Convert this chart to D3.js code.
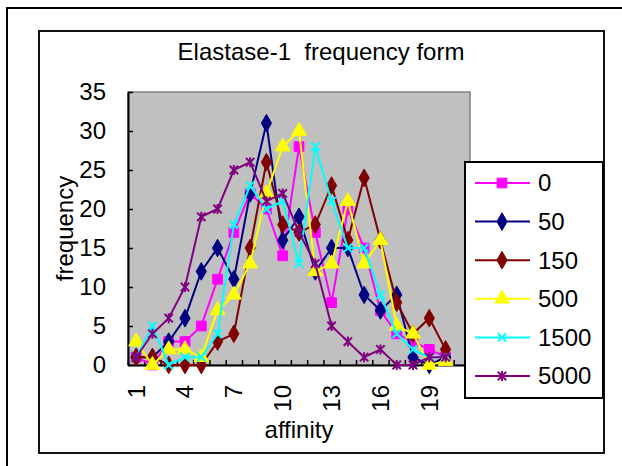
<!DOCTYPE html>
<html>
<head>
<meta charset="utf-8">
<script src="https://cdn.jsdelivr.net/npm/d3@7"></script>
<style>
    body { margin: 0; background: #fff; }
    text { font-family: 'Liberation Sans', Arial, sans-serif; fill: #000; }
</style>
</head>
<body>
<div id="chart"></div>
<script>
// categories on the x axis (21 slots, data for the first 20)
const categories = [1, 2, 3, 4, 5, 6, 7, 8, 9, 10, 11, 12, 13, 14, 15, 16, 17, 18, 19, 20, 21];
const labelCats = [1, 4, 7, 10, 13, 16, 19];
const yTicks = [0, 5, 10, 15, 20, 25, 30, 35];

const seriesNames = ['0', '50', '150', '500', '1500', '5000'];
const s0    = [1, 0, 3, 3, 5, 11, 17, 22, 20, 14, 28, 17, 8, 20, 15, 7, 4, 3, 2, 1];
const s50   = [1, 1, 3, 6, 12, 15, 11, 22, 31, 16, 19, 12, 15, 15, 9, 7, 9, 1, 0, 1];
const s150  = [1, 1, 0, 0, 0, 3, 4, 15, 26, 18, 17, 18, 23, 16, 24, 16, 8, 4, 6, 2];
const s500  = [3, 0, 2, 2, 1, 7, 9, 13, 22, 28, 30, 12, 13, 21, 13, 16, 5, 4, 0, 0.5];
const s1500 = [1, 5, 0, 1, 1, 4, 18, 23, 20, 21, 13, 28, 21, 15, 15, 9, 4, 2, 1, 1];
const s5000 = [1, 4, 6, 10, 19, 20, 25, 26, 21, 22, 17, 13, 5, 3, 1, 2, 0, 0, 1, 1];

const seriesValues = [s0, s50, s150, s500, s1500, s5000];
const colors = ['#ff00ff', '#000080', '#800000', '#ffff00', '#00ffff', '#800080'];

// excel style star: x with a vertical bar
const symbolStar = {
    draw(ctx, size) {
        const r = Math.sqrt(size) / 2;
        ctx.moveTo(-r, -r); ctx.lineTo(r, r);
        ctx.moveTo(r, -r); ctx.lineTo(-r, r);
        ctx.moveTo(0, -r * 1.2); ctx.lineTo(0, r * 1.2);
    }
};
const symbolCross = {
    draw(ctx, size) {
        const r = Math.sqrt(size) / 2;
        ctx.moveTo(-r, -r); ctx.lineTo(r, r);
        ctx.moveTo(r, -r); ctx.lineTo(-r, r);
    }
};
const markers = [
    { type: d3.symbolSquare, size: 95, filled: true },
    { type: d3.symbolDiamond, size: 90, filled: true },
    { type: d3.symbolDiamond, size: 90, filled: true },
    { type: d3.symbolTriangle, size: 95, filled: true },
    { type: symbolCross, size: 70, filled: false },
    { type: symbolStar, size: 70, filled: false }
];

const W = 622, H = 466;
const plot = { left: 128, right: 470, top: 92, bottom: 365 };

const svg = d3.select('#chart').append('svg')
    .attr('width', W)
    .attr('height', H);

// outer frame (runs off the picture on the right / bottom)
svg.append('rect')
    .attr('x', 7).attr('y', 8)
    .attr('width', 700).attr('height', 600)
    .attr('fill', '#fff')
    .attr('stroke', '#000')
    .attr('stroke-width', 2);

// chart frame
svg.append('rect')
    .attr('x', 39).attr('y', 31)
    .attr('width', 565).attr('height', 422)
    .attr('fill', '#fff')
    .attr('stroke', '#111')
    .attr('stroke-width', 2);

svg.append('text')
    .attr('x', 321)
    .attr('y', 60)
    .attr('text-anchor', 'middle')
    .attr('font-size', 24)
    .style('white-space', 'pre')
    .text('Elastase-1  frequency form');

const xScale = d3.scaleLinear()
    .domain([0.5, categories.length + 0.5])
    .range([plot.left, plot.right]);
const yScale = d3.scaleLinear()
    .domain([0, 35])
    .range([plot.bottom, plot.top]);

// plot area
svg.append('rect')
    .attr('x', plot.left).attr('y', plot.top)
    .attr('width', plot.right - plot.left)
    .attr('height', plot.bottom - plot.top)
    .attr('fill', '#c0c0c0')
    .attr('stroke', '#808080')
    .attr('stroke-width', 1.5);

// x axis: tick marks on category boundaries
const boundaries = categories.map(c => c + 0.5);
boundaries.unshift(0.5);
svg.append('g')
    .attr('transform', `translate(0,${plot.bottom})`)
    .call(d3.axisBottom(xScale).tickValues(boundaries).tickSizeInner(-5).tickSizeOuter(0).tickFormat(''))
    .call(g => g.select('.domain').attr('stroke', '#000').attr('stroke-width', 2))
    .call(g => g.selectAll('.tick line').attr('stroke', '#000').attr('stroke-width', 1.5));

// x labels, rotated
svg.append('g')
    .selectAll('text')
    .data(labelCats)
    .join('text')
    .attr('transform', d => `translate(${xScale(d)},385) rotate(-90)`)
    .attr('text-anchor', 'end')
    .attr('dy', '0.35em')
    .attr('font-size', 24)
    .text(d => d);

// y axis
svg.append('g')
    .attr('transform', `translate(${plot.left},0)`)
    .call(d3.axisLeft(yScale).tickValues(yTicks).tickSizeInner(-5).tickSizeOuter(0).tickPadding(22))
    .call(g => g.select('.domain').attr('stroke', '#000').attr('stroke-width', 2))
    .call(g => g.selectAll('.tick line').attr('stroke', '#000').attr('stroke-width', 1.5))
    .call(g => g.selectAll('.tick text')
        .attr('font-size', 24)
        .attr('font-family', "'Liberation Sans', Arial, sans-serif"));

svg.append('text')
    .attr('x', (plot.left + plot.right) / 2)
    .attr('y', 438)
    .attr('text-anchor', 'middle')
    .attr('font-size', 24)
    .text('affinity');

svg.append('text')
    .attr('transform', `translate(73,${(plot.top + plot.bottom) / 2}) rotate(-90)`)
    .attr('text-anchor', 'middle')
    .attr('font-size', 24)
    .text('frequency');

// series
const line = d3.line()
    .x((d, i) => xScale(categories[i]))
    .y(d => yScale(d));

seriesValues.forEach((values, si) => {
    const g = svg.append('g');
    g.append('path')
        .attr('d', line(values))
        .attr('fill', 'none')
        .attr('stroke', colors[si])
        .attr('stroke-width', 2);
    const m = markers[si];
    g.selectAll('path.mark')
        .data(values)
        .join('path')
        .attr('class', 'mark')
        .attr('transform', (d, i) => `translate(${xScale(categories[i])},${yScale(d)})`)
        .attr('d', d3.symbol().type(m.type).size(m.size))
        .attr('fill', m.filled ? colors[si] : 'none')
        .attr('stroke', colors[si])
        .attr('stroke-width', m.filled ? 1 : 2);
});

// legend
const legend = svg.append('g');
legend.append('rect')
    .attr('x', 465).attr('y', 162)
    .attr('width', 138).attr('height', 236)
    .attr('fill', '#fff')
    .attr('stroke', '#000')
    .attr('stroke-width', 2);

const legendY = d3.scalePoint()
    .domain(seriesNames)
    .range([183, 376]);

seriesNames.forEach((name, si) => {
    const y = legendY(name);
    const m = markers[si];
    legend.append('line')
        .attr('x1', 475).attr('x2', 530)
        .attr('y1', y).attr('y2', y)
        .attr('stroke', colors[si])
        .attr('stroke-width', 2);
    legend.append('path')
        .attr('transform', `translate(502,${y})`)
        .attr('d', d3.symbol().type(m.type).size(m.size))
        .attr('fill', m.filled ? colors[si] : 'none')
        .attr('stroke', colors[si])
        .attr('stroke-width', m.filled ? 1 : 2);
    legend.append('text')
        .attr('x', 538)
        .attr('y', y)
        .attr('dy', '0.35em')
        .attr('font-size', 24)
        .text(name);
});
</script>
</body>
</html>
